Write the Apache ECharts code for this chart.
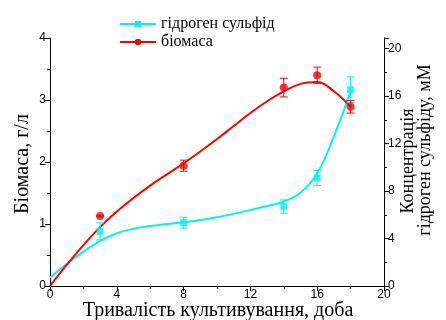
<!DOCTYPE html>
<html>
<head>
<meta charset="utf-8">
<script src="https://cdn.jsdelivr.net/npm/echarts@6/dist/echarts.min.js"></script>
<style>
  html, body { margin: 0; padding: 0; background: #fff; }
  #chart { width: 446px; height: 320px; }
</style>
</head>
<body>
<div id="chart"></div>
<script>
// measured points (days of cultivation)
const days = [3, 8, 14, 16, 18];
const biomass = [1.13, 1.94, 3.20, 3.40, 2.89];      // g/l, left axis
const biomassErr = [0, 0.09, 0.15, 0.13, 0.10];
const sulfide = [4.6, 5.34, 6.69, 9.09, 16.54];      // mM, right axis
const sulfideErr = [0.72, 0.46, 0.56, 0.63, 1.08];

// fitted curves
const fitDays = [0, 1, 2, 3, 4, 5, 6, 7, 8, 9, 10, 11, 12, 13, 14, 15, 16, 17, 18];
const biomassFit = [0, 0.34, 0.66, 0.95, 1.2, 1.42, 1.62, 1.8, 1.98, 2.17, 2.37, 2.58, 2.79, 2.98, 3.14, 3.26, 3.29, 3.14, 2.89];
const sulfideFit = [0.72, 1.85, 2.9, 3.8, 4.45, 4.82, 5.06, 5.22, 5.37, 5.56, 5.8, 6.08, 6.4, 6.74, 7.12, 7.85, 9.5, 12.6, 16.4];

const xTicks = { min: 0, max: 20, interval: 4 };
const leftTicks = { min: 0, max: 4, interval: 1 };
const rightTicks = { min: 0, max: 20.9, interval: 4 };

const CYAN = '#00f2f2';
const RED = '#ff0000';
const serif = '"Liberation Serif", "DejaVu Serif", serif';
const sans = '"Liberation Sans", Arial, sans-serif';

const zip = (xs, ys) => xs.map((x, i) => [x, ys[i]]);
const errData = (ys, es) => days.map((d, i) => [d, ys[i], ys[i] - es[i], ys[i] + es[i]]);

function errorBar(color) {
  return function (params, api) {
    const x = api.value(0);
    const lo = api.coord([x, api.value(2)]);
    const hi = api.coord([x, api.value(3)]);
    const w = 4;
    const style = { stroke: color, lineWidth: 1 };
    return {
      type: 'group',
      children: [
        { type: 'line', shape: { x1: lo[0], y1: lo[1], x2: hi[0], y2: hi[1] }, style: style },
        { type: 'line', shape: { x1: lo[0] - w, y1: lo[1], x2: lo[0] + w, y2: lo[1] }, style: style },
        { type: 'line', shape: { x1: hi[0] - w, y1: hi[1], x2: hi[0] + w, y2: hi[1] }, style: style }
      ]
    };
  };
}

const axisCommon = {
  axisLine: { show: true, lineStyle: { color: '#000', width: 1 } },
  axisTick: { show: true, inside: false, length: 5, lineStyle: { color: '#000' } },
  minorTick: { show: true, splitNumber: 2, length: 3, lineStyle: { color: '#000' } },
  axisLabel: { color: '#000', fontFamily: sans, fontSize: 12, margin: 4 },
  splitLine: { show: false }
};

const option = {
  animation: false,
  backgroundColor: '#fff',
  grid: { left: 50, right: 62, top: 38, bottom: 34 },
  legend: {
    orient: 'vertical',
    left: 114,
    top: 11,
    itemWidth: 36,
    itemHeight: 8,
    itemGap: 2,
    data: ['гідроген сульфід', 'біомаса'],
    textStyle: { fontFamily: serif, fontSize: 16, color: '#000' }
  },
  xAxis: Object.assign({}, axisCommon, {
    type: 'value', min: xTicks.min, max: xTicks.max, interval: xTicks.interval,
    axisLabel: Object.assign({}, axisCommon.axisLabel, { margin: 3 })
  }),
  yAxis: [
    Object.assign({}, axisCommon, {
      type: 'value', position: 'left',
      min: leftTicks.min, max: leftTicks.max, interval: leftTicks.interval
    }),
    Object.assign({}, axisCommon, {
      type: 'value', position: 'right',
      min: rightTicks.min, max: rightTicks.max, interval: rightTicks.interval,
      axisLabel: Object.assign({}, axisCommon.axisLabel, { showMaxLabel: false })
    })
  ],
  series: [
    {
      name: 'гідроген сульфід', type: 'line', yAxisIndex: 1,
      data: zip(fitDays, sulfideFit), smooth: 0.4,
      symbol: 'rect', symbolSize: 7, showSymbol: false,
      lineStyle: { color: CYAN, width: 2 }, itemStyle: { color: CYAN }, z: 2
    },
    {
      name: 'біомаса', type: 'line', yAxisIndex: 0,
      data: zip(fitDays, biomassFit), smooth: 0.4,
      symbol: 'circle', symbolSize: 8, showSymbol: false,
      lineStyle: { color: RED, width: 2 }, itemStyle: { color: RED }, z: 2
    },
    {
      name: 'sulfideErr', type: 'custom', yAxisIndex: 1,
      data: errData(sulfide, sulfideErr), renderItem: errorBar(CYAN),
      encode: { x: 0, y: 1 }, z: 3
    },
    {
      name: 'biomassErr', type: 'custom', yAxisIndex: 0,
      data: errData(biomass, biomassErr), renderItem: errorBar(RED),
      encode: { x: 0, y: 1 }, z: 3
    },
    {
      name: 'sulfidePts', type: 'scatter', yAxisIndex: 1,
      data: zip(days, sulfide), symbol: 'rect', symbolSize: 7,
      itemStyle: { color: CYAN }, z: 4
    },
    {
      name: 'biomassPts', type: 'scatter', yAxisIndex: 0,
      data: zip(days, biomass), symbol: 'circle', symbolSize: 8,
      itemStyle: { color: RED }, z: 4
    }
  ],
  graphic: [
    { type: 'text', x: 23, y: 164, rotation: Math.PI / 2,
      style: { text: 'Біомаса, г/л', font: '20px ' + serif, fill: '#000', align: 'center', verticalAlign: 'middle' } },
    { type: 'text', x: 218, y: 311,
      style: { text: 'Тривалість культивування, доба', font: '20px ' + serif, fill: '#000', align: 'center', verticalAlign: 'middle' } },
    { type: 'text', x: 408, y: 161, rotation: Math.PI / 2,
      style: { text: 'Концентрація', font: '18px ' + serif, fill: '#000', align: 'center', verticalAlign: 'middle' } },
    { type: 'text', x: 425, y: 150, rotation: Math.PI / 2,
      style: { text: 'гідроген сульфіду, мМ', font: '18px ' + serif, fill: '#000', align: 'center', verticalAlign: 'middle' } }
  ]
};

const chart = echarts.init(document.getElementById('chart'));
chart.setOption(option);
</script>
</body>
</html>
